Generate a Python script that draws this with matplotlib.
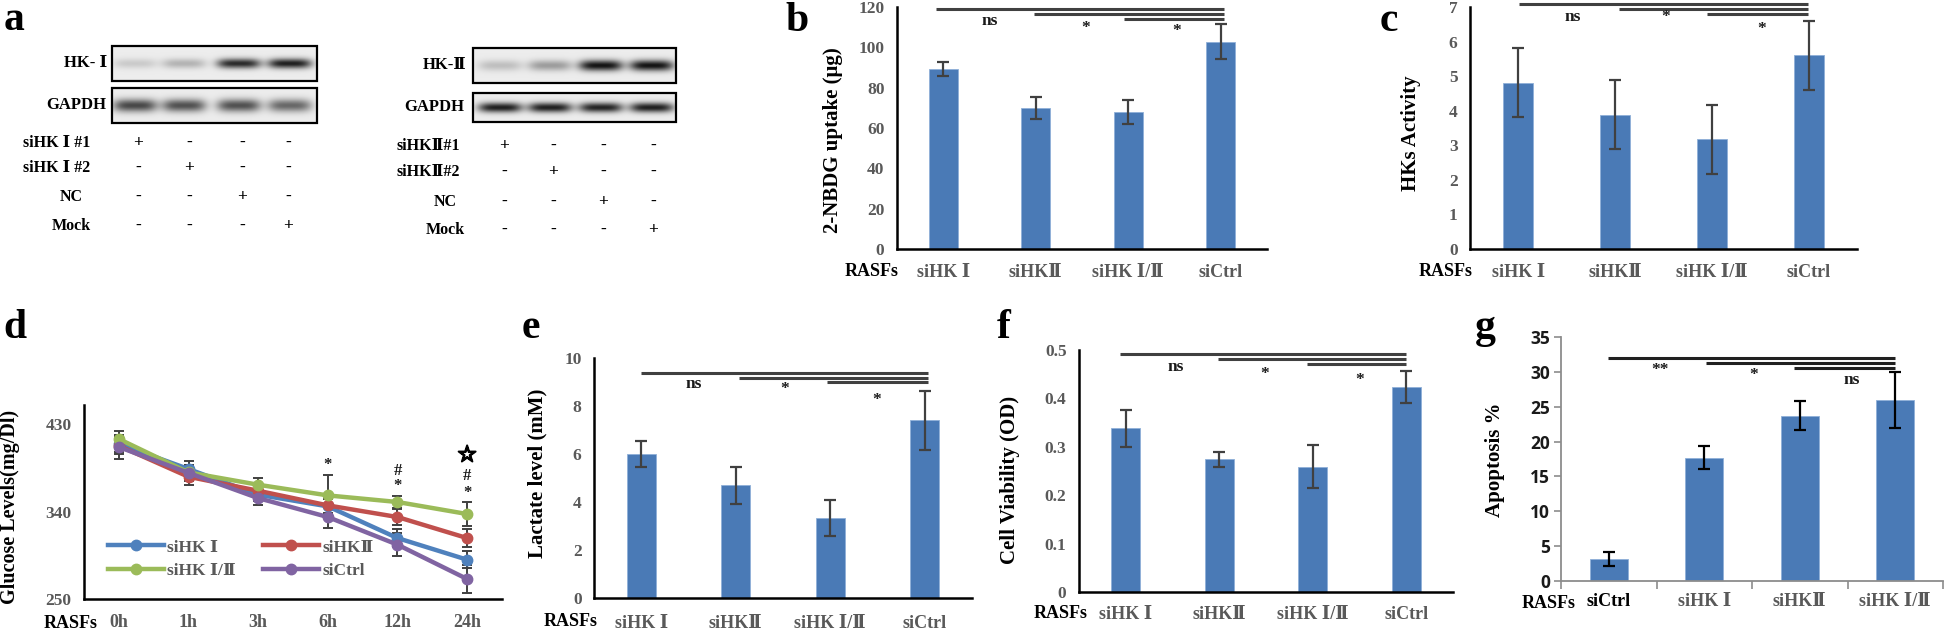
import numpy as np
import matplotlib
matplotlib.use('Agg')
import matplotlib.pyplot as plt
import matplotlib.patheffects as pe
from matplotlib.ticker import FixedLocator

SERIF = ['Liberation Serif', 'DejaVu Serif', 'DejaVu Sans', 'Noto Sans CJK SC']
plt.rcParams['font.family'] = SERIF
plt.rcParams['font.weight'] = 'bold'

GRAY = '#595959'
BAR = '#4A7AB6'
ERR = '#404040'

# ---------------- data ----------------
groups_main = ['siHK Ⅰ', 'siHKⅡ', 'siHK Ⅰ/Ⅱ', 'siCtrl']
nbdg = [89.3, 69.9, 68.0, 102.8]
nbdg_err = [3.5, 5.5, 6.0, 8.7]
hk_activity = [4.81, 3.88, 3.17, 5.60]
hk_activity_err = [1.0, 1.0, 1.0, 1.0]
lactate = [6.01, 4.69, 3.33, 7.40]
lactate_err = [0.55, 0.77, 0.74, 1.24]
viability = [0.338, 0.274, 0.259, 0.424]
viability_err = [0.038, 0.016, 0.045, 0.033]
groups_apop = ['siCtrl', 'siHK Ⅰ', 'siHKⅡ', 'siHK Ⅰ/Ⅱ']
apoptosis = [3.2, 17.7, 23.7, 26.0]
apoptosis_err = [1.0, 1.7, 2.1, 4.05]

timepoints = ['0h', '1h', '3h', '6h', '12h', '24h']
glu_names = ['siHK Ⅰ', 'siHKⅡ', 'siHK Ⅰ/Ⅱ', 'siCtrl']
glu_hk1 = [410, 384, 357.5, 345.5, 312.8, 290.5]
glu_hk2 = [408, 376, 361.6, 346.5, 334.5, 312.8]
glu_hk12 = [415, 380.5, 367.8, 356.8, 350, 337.6]
glu_ctrl = [406.7, 380, 354, 334.5, 306, 270.6]
glu_hk1_err = [8, 8, 6, 8, 9, 9]
glu_hk2_err = [8, 8, 6, 8, 8, 9]
glu_hk12_err = [8, 8, 7, 21, 6, 12]
glu_ctrl_err = [12, 8, 7, 11, 12, 14]
glu_colors = ['#4F81BD', '#C0504D', '#9BBB59', '#8064A2']

# western blot band intensities (0 = none, 1 = darkest)
blot1_target = [0.15, 0.25, 0.85, 0.9]
blot1_gapdh = [0.72, 0.68, 0.68, 0.58]
blot2_target = [0.2, 0.35, 0.95, 0.95]
blot2_gapdh = [0.9, 0.9, 0.88, 0.9]
blot1_rows = ['siHK Ⅰ #1', 'siHK Ⅰ #2', 'NC', 'Mock']
blot2_rows = ['siHKⅡ#1', 'siHKⅡ#2', 'NC', 'Mock']
treat_matrix = [['+', '-', '-', '-'],
                ['-', '+', '-', '-'],
                ['-', '-', '+', '-'],
                ['-', '-', '-', '+']]

W, H = 1946, 633
fig = plt.figure(figsize=(W / 100, H / 100), dpi=100)
ov = fig.add_axes([0, 0, 1, 1])
ov.set_xlim(0, W)
ov.set_ylim(H, 0)
ov.axis('off')


def rect(x0, x1, y0, y1):
    return [x0 / W, 1 - y1 / H, (x1 - x0) / W, (y1 - y0) / H]


# ---------------- panel a: western blots ----------------
def blot(x0, x1, y0, y1, intens, lane_x, band_h):
    nx, ny = 300, 60
    xs = np.linspace(x0, x1, nx)
    ys = np.linspace(y0, y1, ny)
    X, Y = np.meshgrid(xs, ys)
    img = np.zeros_like(X)
    yc = (y0 + y1) / 2
    for cx, v in zip(lane_x, intens):
        img += v * np.exp(-((X - cx) / 22) ** 4 - ((Y - yc) / band_h) ** 2)
    img = np.clip(img, 0, 1)
    gray = 0.93 - 0.9 * img
    ov.imshow(np.dstack([gray, gray, gray]), extent=[x0, x1, y1, y0],
              aspect='auto', interpolation='bilinear', zorder=1)
    ov.add_patch(plt.Rectangle((x0, y0), x1 - x0, y1 - y0, fill=False,
                               edgecolor='black', lw=1.6, zorder=2))


lanes1 = [135, 184, 239, 290]
blot(112, 317, 46, 81, blot1_target, lanes1, 5)
blot(112, 317, 88, 123, blot1_gapdh, lanes1, 6.5)
ov.text(107, 63, 'HK- Ⅰ', ha='right', va='center', fontsize=12)
ov.text(106, 105, 'GAPDH', ha='right', va='center', fontsize=12)
cols1 = [138, 189, 242, 288]
rows1_y = [143, 168, 197, 226]
rows1_x = [57, 57, 71, 71]
for r, (lab, ry, rx) in enumerate(zip(blot1_rows, rows1_y, rows1_x)):
    ov.text(rx, ry, lab, ha='center', va='center', fontsize=11.5)
    for c, cx in enumerate(cols1):
        ov.text(cx, ry, treat_matrix[r][c], ha='center', va='center', fontsize=12.5)

lanes2 = [500, 550, 601, 652]
blot(473, 676, 48, 83, blot2_target, lanes2, 5.5)
blot(473, 676, 93, 122, blot2_gapdh, lanes2, 5)
ov.text(466, 65, 'HK-Ⅱ', ha='right', va='center', fontsize=12)
ov.text(464, 107, 'GAPDH', ha='right', va='center', fontsize=12)
cols2 = [504, 553, 603, 653]
rows2_y = [146, 172, 202, 230]
rows2_x = [428, 428, 445, 445]
for r, (lab, ry, rx) in enumerate(zip(blot2_rows, rows2_y, rows2_x)):
    ov.text(rx, ry, lab, ha='center', va='center', fontsize=11.5)
    for c, cx in enumerate(cols2):
        ov.text(cx, ry, treat_matrix[r][c], ha='center', va='center', fontsize=12.5)


# ---------------- bar panels ----------------
def bar_panel(box, labels, vals, errs, ylim, yticks, ytick_labels,
              sig_lines, sig_texts, xpad, style='excel'):
    ax = fig.add_axes(rect(*box))
    x = np.arange(len(vals))
    ecol = ERR if style == 'excel' else 'black'
    width = 0.31 if style == 'excel' else 0.40
    ax.bar(x, vals, width=width, color=BAR, edgecolor='#8FB0D8', lw=0.6,
           yerr=errs, error_kw=dict(ecolor=ecol, elinewidth=1.6, capsize=4,
                                    capthick=1.6), zorder=2)
    ax.set_xlim(-0.5, 3.5)
    ax.set_ylim(*ylim)
    ax.set_yticks(yticks)
    ax.set_xticks(x)
    for s in ['top', 'right']:
        ax.spines[s].set_visible(False)
    if style == 'excel':
        ax.set_yticklabels(ytick_labels, color=GRAY, fontsize=12.5)
        ax.set_xticklabels(labels, color=GRAY, fontsize=13)
        ax.tick_params(axis='y', length=0, pad=9)
        ax.tick_params(axis='x', length=0, pad=xpad)
        for s in ['left', 'bottom']:
            ax.spines[s].set_linewidth(1.8)
            ax.spines[s].set_color('black')
    else:
        ax.set_yticklabels(ytick_labels, color='#1a1a1a', fontsize=12.5,
                           family=['Open Sans', 'DejaVu Sans'], fontweight='bold')
        ax.set_xticklabels(labels, color=GRAY, fontsize=13)
        ax.get_xticklabels()[0].set_color('black')
        ax.tick_params(axis='y', length=5, width=1.2, color='#8c8c8c', pad=3)
        ax.tick_params(axis='x', which='major', length=0, pad=xpad)
        ax.xaxis.set_minor_locator(FixedLocator([-0.5, 0.5, 1.5, 2.5, 3.5]))
        ax.tick_params(axis='x', which='minor', length=6, width=1.2, color='#8c8c8c')
        for s in ['left', 'bottom']:
            ax.spines[s].set_linewidth(1.3)
            ax.spines[s].set_color('#8c8c8c')
    lcol = '#404040' if style == 'excel' else '#202020'
    for (xs, xe, yv) in sig_lines:
        ax.plot([xs, xe], [yv, yv], color=lcol, lw=2.2, clip_on=False,
                solid_capstyle='butt', zorder=3)
    for (tx, ty, tl) in sig_texts:
        ax.text(tx, ty, tl, ha='center', va='center', fontsize=12.5,
                color='#1a1a1a', clip_on=False)
    return ax


# b
bar_panel((897, 1267, 7, 249), groups_main, nbdg, nbdg_err, (0, 120),
          range(0, 121, 20), [str(v) for v in range(0, 121, 20)],
          [(-0.08, 3.03, 119), (0.98, 3.03, 116.5), (1.95, 3.03, 114)],
          [(0.5, 113, 'ns'), (1.54, 109.5, '*'), (2.52, 108, '*')], 11)
ov.text(833, 140, '2-NBDG uptake (μg)', rotation=90, ha='center', va='center',
        fontsize=15)
ov.text(872, 272, 'RASFs', ha='center', va='center', fontsize=13)

# c
bar_panel((1470, 1857, 7, 249), groups_main, hk_activity, hk_activity_err, (0, 7),
          range(0, 8), [str(v) for v in range(0, 8)],
          [(0.01, 2.99, 7.09), (1.04, 2.99, 6.93), (1.95, 2.99, 6.79)],
          [(0.56, 6.72, 'ns'), (1.52, 6.70, '*'), (2.51, 6.35, '*')], 11)
ov.text(1411, 133, 'HKs Activity', rotation=90, ha='center', va='center',
        fontsize=15)
ov.text(1446, 271, 'RASFs', ha='center', va='center', fontsize=13)

# e
bar_panel((594, 972, 358, 598), groups_main, lactate, lactate_err, (0, 10),
          range(0, 11, 2), [str(v) for v in range(0, 11, 2)],
          [(0.0, 3.03, 9.375), (1.03, 3.03, 9.17), (1.97, 3.03, 8.99)],
          [(0.56, 8.9, 'ns'), (1.52, 8.72, '*'), (2.49, 8.23, '*')], 12)
ov.text(537, 473, 'Lactate level (mM)', rotation=90, ha='center', va='center',
        fontsize=15)
ov.text(571, 622, 'RASFs', ha='center', va='center', fontsize=13)

# f
bar_panel((1079, 1453, 350, 592), groups_main, viability, viability_err, (0, 0.5),
          [0, 0.1, 0.2, 0.3, 0.4, 0.5], ['0', '0.1', '0.2', '0.3', '0.4', '0.5'],
          [(-0.06, 3.0, 0.491), (0.99, 3.0, 0.481), (1.94, 3.0, 0.472)],
          [(0.53, 0.465, 'ns'), (1.49, 0.450, '*'), (2.50, 0.437, '*')], 10)
ov.text(1010, 480, 'Cell Viability (OD)', rotation=90, ha='center', va='center',
        fontsize=15)
ov.text(1061, 613, 'RASFs', ha='center', va='center', fontsize=13)

# g
bar_panel((1561, 1943, 337, 581), groups_apop, apoptosis, apoptosis_err, (0, 35),
          range(0, 36, 5), [str(v) for v in range(0, 36, 5)],
          [(-0.01, 3.0, 32.0), (1.02, 3.0, 31.26), (1.94, 3.0, 30.6)],
          [(0.54, 30.3, '**'), (1.52, 29.5, '*'), (2.54, 28.8, 'ns')], 9,
          style='excel2')
ov.text(1495, 460, 'Apoptosis %', rotation=90, ha='center', va='center',
        fontsize=15)
ov.text(1549, 603, 'RASFs', ha='center', va='center', fontsize=13)

# ---------------- panel d: glucose line chart ----------------
axd = fig.add_axes(rect(84, 502, 405, 599))
tx = np.arange(len(timepoints))
series = [glu_hk1, glu_hk2, glu_hk12, glu_ctrl]
series_err = [glu_hk1_err, glu_hk2_err, glu_hk12_err, glu_ctrl_err]
handles = []
for vals, errs, col, name in zip(series, series_err, glu_colors, glu_names):
    axd.errorbar(tx, vals, yerr=errs, fmt='none', ecolor=ERR, elinewidth=1.4,
                 capsize=3.5, capthick=1.4, zorder=2)
    h, = axd.plot(tx, vals, color=col, lw=3.2, marker='o', markersize=7.5,
                  zorder=3, label=name)
    handles.append(h)
axd.set_xlim(-0.5, 5.5)
axd.set_ylim(250, 450)
axd.set_yticks([250, 340, 430])
axd.set_yticklabels(['250', '340', '430'], color=GRAY, fontsize=12.5)
axd.set_xticks(tx)
axd.set_xticklabels(timepoints, color=GRAY, fontsize=13)
axd.tick_params(axis='y', length=0, pad=9)
axd.tick_params(axis='x', length=0, pad=11)
for s in ['top', 'right']:
    axd.spines[s].set_visible(False)
for s in ['left', 'bottom']:
    axd.spines[s].set_linewidth(1.8)
leg = axd.legend(handles=[handles[0], handles[2], handles[1], handles[3]],
                 labels=[glu_names[0], glu_names[2], glu_names[1], glu_names[3]],
                 ncol=2, loc='lower left', bbox_to_anchor=(0.02, 0.02),
                 frameon=False, handlelength=3.2, handletextpad=0.2,
                 columnspacing=1.6, labelspacing=0.45, fontsize=12.5)
for t in leg.get_texts():
    t.set_color(GRAY)
d_marks = [(3, 388.5, '*'), (4, 381.5, '#'), (4, 366.8, '*'),
           (5, 398, '☆'), (5, 376.4, '#'), (5, 359.3, '*')]
for (mx, my, ml) in d_marks:
    if ml == '☆':
        axd.text(mx, my, ml, ha='center', va='center', fontsize=16,
                 color='black', family=['DejaVu Sans'],
                 path_effects=[pe.withStroke(linewidth=1.4, foreground='black')])
    else:
        axd.text(mx, my, ml, ha='center', va='center', fontsize=12,
                 color='#1a1a1a')
ov.text(10, 507, 'Glucose Levels(mg/Dl)', rotation=90, ha='center', va='center',
        fontsize=14.5)
ov.text(71, 623, 'RASFs', ha='center', va='center', fontsize=13)

# ---------------- panel letters ----------------
for (lx, ly, lt) in [(4, 30, 'a'), (785, 31, 'b'), (1380, 31, 'c'),
                     (3, 338, 'd'), (522, 338, 'e'), (997, 338, 'f'),
                     (1475, 338, 'g')]:
    ov.text(lx, ly, lt, ha='left', va='baseline', fontsize=30, fontweight='bold')

fig.savefig('out.png', dpi=100)
